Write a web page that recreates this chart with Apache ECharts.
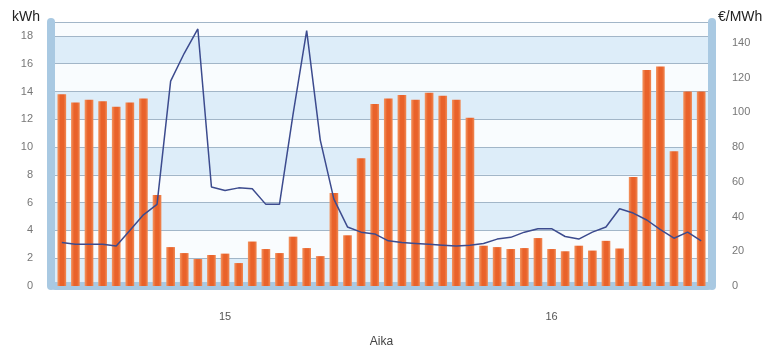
<html><head>
<meta charset="UTF-8">
<title>Kulutus ja hinta</title>
<style>
  body { margin: 0; background: #fff; }
  #chart { width: 765px; height: 347px; }
</style>
</head>
<body>
  <div id="chart"></div>
  <script src="https://cdn.jsdelivr.net/npm/echarts@6/dist/echarts.min.js"></script>
  <script>
    // tuntikulutus kWh, kaksi vuorokautta (15. ja 16.)
    const days = ['15', '16'];
    const kulutus = [
      13.8, 13.2, 13.4, 13.3, 12.9, 13.2, 13.5, 6.55, 2.8, 2.37, 1.94, 2.23,
      2.33, 1.65, 3.2, 2.66, 2.37, 3.55, 2.73, 2.15, 6.7, 3.65, 9.2, 13.1,
      13.5, 13.75, 13.4, 13.9, 13.7, 13.4, 12.1, 2.9, 2.8, 2.66, 2.73, 3.45,
      2.66, 2.5, 2.9, 2.55, 3.25, 2.7, 7.85, 15.55, 15.8, 9.7, 14.0, 14.0
    ];
    // spot-hinta €/MWh
    const hinta = [
      25, 24, 24, 24, 23, 32, 41, 47, 118, 134, 148, 57,
      55, 56.5, 56, 47, 47, 99, 147, 84, 50, 34, 31, 30,
      26, 25, 24.5, 24, 23.5, 23, 23.5, 24.5, 27, 28, 31, 33,
      33, 28.5, 27, 31, 34, 44.5, 42, 38, 32.5, 27.5, 31, 26
    ];

    const categories = [];
    days.forEach(d => {
      for (let h = 0; h < 24; h++) categories.push(d + ' ' + h + ':00');
    });

    const chart = echarts.init(document.getElementById('chart'));
    const axisBar = { show: true, lineStyle: { color: '#a9c9e2', width: 8 } };

    chart.setOption({
      animation: false,
      textStyle: { fontFamily: 'Liberation Sans, Arial, sans-serif' },
      grid: { left: 55, right: 57, top: 22, bottom: 61, outerBoundsMode: 'none' },
      xAxis: {
        type: 'category',
        data: categories,
        offset: 6,
        axisLine: axisBar,
        axisTick: { show: false },
        axisLabel: {
          interval: 0,
          margin: 19,
          color: '#555',
          fontSize: 11,
          formatter: (v, i) => (i % 24 === 12 ? v.split(' ')[0] : '')
        },
        name: 'Aika',
        nameLocation: 'middle',
        nameGap: 44,
        nameTextStyle: { color: '#444', fontSize: 12 }
      },
      yAxis: [
        {
          type: 'value',
          min: 0, max: 19, interval: 2,
          offset: 4,
          axisLine: axisBar,
          axisTick: { show: false },
          axisLabel: { color: '#777', fontSize: 11, margin: 18, showMaxLabel: false },
          splitLine: { show: true, lineStyle: { color: '#a2b6c8', width: 1.2 } },
          splitArea: { show: true, areaStyle: { color: ['#ddedf9', '#f9fcfe'] } },
          name: 'kWh',
          nameGap: -2,
          nameTextStyle: { color: '#222', fontSize: 14, align: 'right', padding: [0, 11, 0, 0] }
        },
        {
          type: 'value',
          min: 0, max: 152, interval: 20,
          offset: 4,
          position: 'right',
          axisLine: axisBar,
          axisTick: { show: false },
          axisLabel: { color: '#777', fontSize: 11, margin: 20, showMaxLabel: false },
          splitLine: { show: false },
          name: '€/MWh',
          nameGap: -2,
          nameTextStyle: { color: '#222', fontSize: 14, align: 'left', padding: [0, 0, 0, 6] }
        }
      ],
      series: [
        {
          name: 'Kulutus',
          type: 'bar',
          data: kulutus,
          barCategoryGap: '36%',
          itemStyle: {
            color: new echarts.graphic.LinearGradient(0, 0, 1, 0, [
              { offset: 0, color: '#f39560' },
              { offset: 0.35, color: '#e9622a' },
              { offset: 0.7, color: '#e9622a' },
              { offset: 1, color: '#f08a55' }
            ])
          }
        },
        {
          name: 'Hinta',
          type: 'line',
          yAxisIndex: 1,
          data: hinta,
          showSymbol: false,
          lineStyle: { color: '#3c4b8e', width: 1.5 }
        }
      ]
    });
  </script>
</body></html>
